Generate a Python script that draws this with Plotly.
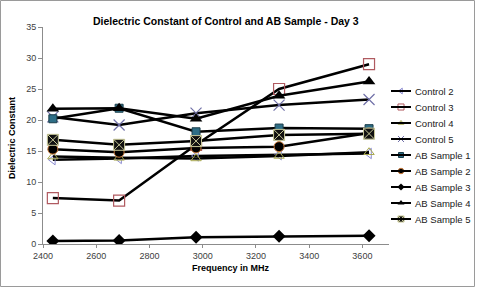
import plotly.graph_objects as go

freq = [2437, 2686, 2975, 3287, 3625]
series_names = ["Control 2", "Control 3", "Control 4", "Control 5",
                "AB Sample 1", "AB Sample 2", "AB Sample 3", "AB Sample 4", "AB Sample 5"]
control_2 = [13.6, 13.8, 14.2, 14.4, 14.6]
control_3 = [7.4, 7.0, 16.0, 25.0, 29.0]
control_4 = [14.1, 13.9, 13.8, 14.2, 14.8]
control_5 = [20.5, 19.2, 21.1, 22.4, 23.3]
ab_1 = [20.2, 21.9, 18.1, 18.7, 18.6]
ab_2 = [15.3, 14.8, 15.5, 15.7, 17.9]
ab_3 = [0.5, 0.55, 1.1, 1.25, 1.35]
ab_4 = [21.8, 21.9, 20.2, 23.9, 26.2]
ab_5 = [16.8, 16.0, 16.6, 17.6, 17.8]
values = [control_2, control_3, control_4, control_5, ab_1, ab_2, ab_3, ab_4, ab_5]

styles = [
    dict(symbol="triangle-left-open", size=9, color="#8a8ad0", lw=1, lc="#8a8ad0"),
    dict(symbol="square-open", size=11, color="#b05a60", lw=1.2, lc="#b05a60"),
    dict(symbol="triangle-up-open", size=9, color="#a8a850", lw=1, lc="#a8a850"),
    dict(symbol="x-thin-open", size=11, color="#7070a8", lw=1.2, lc="#7070a8"),
    dict(symbol="square", size=8, color="#2e6e86", lw=1, lc="#1a3d4a"),
    dict(symbol="circle", size=10, color="#000000", lw=1, lc="#c87838"),
    dict(symbol="diamond", size=10, color="#000000", lw=0, lc="#000000"),
    dict(symbol="triangle-up", size=11, color="#000000", lw=0, lc="#000000"),
    dict(symbol="square-x", size=11, color="#111111", lw=1, lc="#c8c898"),
]

W, H = 477, 287
PL, PR, PT, PB = 43, 389, 27, 244  # plot area in pixels

def fx(px):
    return px / W

def fy(py):
    return 1 - py / H

fig = go.Figure()
for name, vals, st in zip(series_names, values, styles):
    fig.add_trace(go.Scatter(
        x=freq, y=vals, name=name, mode="lines+markers",
        line=dict(color="black", width=2.5),
        marker=dict(symbol=st["symbol"], size=st["size"], color=st["color"],
                    line=dict(width=st["lw"], color=st["lc"])),
        showlegend=False,
    ))

# manual legend (layout elements in pixel space of an overlay axis)
leg_x0, leg_x1, leg_xm, leg_tx = 391, 411, 401, 413
leg_y0, leg_dy = 91, 16
shapes = [
    dict(type="rect", xref="paper", yref="paper",
         x0=fx(0.5), x1=fx(474.5), y0=fy(286.5), y1=fy(0.5),
         line=dict(color="#9a9a9a", width=1), fillcolor="rgba(0,0,0,0)", layer="below"),
]
annotations = [
    dict(text="<b>Dielectric Constant of Control and AB Sample - Day 3</b>",
         xref="paper", yref="paper", x=fx(226), y=fy(21),
         xanchor="center", yanchor="middle", showarrow=False,
         font=dict(size=10.5, color="#000000")),
    dict(text="<b>Frequency in MHz</b>",
         xref="paper", yref="paper", x=fx(231), y=fy(268),
         xanchor="center", yanchor="middle", showarrow=False,
         font=dict(size=9, color="#000000")),
    dict(text="<b>Dielectric Constant</b>", textangle=-90,
         xref="paper", yref="paper", x=fx(12), y=fy(138),
         xanchor="center", yanchor="middle", showarrow=False,
         font=dict(size=9, color="#000000")),
]
for i, (name, st) in enumerate(zip(series_names, styles)):
    yy = leg_y0 + leg_dy * i
    shapes.append(dict(type="line", xref="x2", yref="y2", x0=leg_x0, x1=leg_x1, y0=yy, y1=yy,
                       line=dict(color="black", width=2)))
    fig.add_trace(go.Scatter(
        x=[leg_xm], y=[yy], xaxis="x2", yaxis="y2", mode="markers", showlegend=False,
        hoverinfo="skip",
        marker=dict(symbol=st["symbol"], size=max(5, st["size"] * 0.55), color=st["color"],
                    line=dict(width=min(st["lw"], 1), color=st["lc"])),
    ))
    annotations.append(dict(text=name, xref="x2", yref="y2", x=leg_tx, y=yy,
                            xanchor="left", yanchor="middle", showarrow=False,
                            font=dict(size=9.5, color="#202020")))

fig.update_layout(
    width=W, height=H,
    margin=dict(l=0, r=0, t=0, b=0),
    paper_bgcolor="white", plot_bgcolor="rgba(0,0,0,0)",
    font=dict(family="Liberation Sans, Arial, sans-serif", size=9, color="#404040"),
    showlegend=False,
    xaxis=dict(
        domain=[fx(PL), fx(PR)],
        range=[2400, 3700], tickvals=[2400, 2600, 2800, 3000, 3200, 3400, 3600],
        showgrid=False, zeroline=False, showline=True, linecolor="#8c8c8c", linewidth=1,
        ticks="outside", ticklen=3, tickcolor="#8c8c8c",
        tickfont=dict(size=9, color="#404040"), automargin=False,
    ),
    yaxis=dict(
        domain=[fy(PB), fy(PT)],
        range=[0, 35], dtick=5,
        showgrid=False, zeroline=False, showline=True, linecolor="#8c8c8c", linewidth=1,
        ticks="outside", ticklen=4, tickcolor="#8c8c8c",
        tickfont=dict(size=9, color="#404040"), automargin=False,
    ),
    xaxis2=dict(domain=[0, 1], range=[0, W], visible=False, anchor="y2", fixedrange=True),
    yaxis2=dict(domain=[0, 1], range=[H, 0], visible=False, anchor="x2", fixedrange=True),
    annotations=annotations,
    shapes=shapes,
)

fig.write_html("out.html")
